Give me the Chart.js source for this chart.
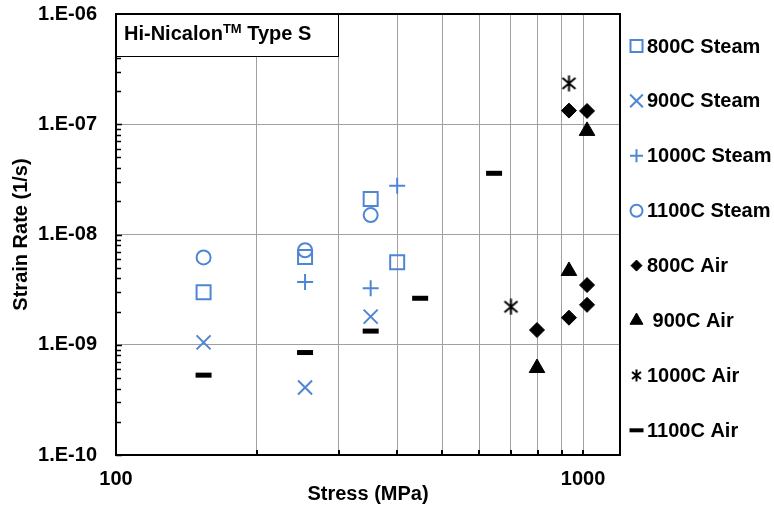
<!DOCTYPE html>
<html>
<head>
<meta charset="utf-8">
<script src="https://cdn.jsdelivr.net/npm/chart.js@4.4.0/dist/chart.umd.min.js"></script>
<style>
  body { margin: 0; background: #fff; }
</style>
</head>
<body>
<canvas id="creep-chart" width="774" height="510"></canvas>
<script>
// stress (MPa) vs. steady-state strain rate (1/s), one pair of arrays per test condition
const steam800Stress = [154, 254, 351, 400];
const steam800Rate   = [3.0e-9, 6.25e-9, 2.1e-8, 5.6e-9];

const steam900Stress = [154, 254, 351];
const steam900Rate   = [1.05e-9, 4.1e-10, 1.8e-9];

const steam1000Stress = [254, 351, 400];
const steam1000Rate   = [3.7e-9, 3.25e-9, 2.77e-8];

const steam1100Stress = [154, 254, 351];
const steam1100Rate   = [6.2e-9, 7.2e-9, 1.5e-8];

const air800Stress = [797, 933, 933, 1020, 1020, 1020];
const air800Rate   = [1.36e-9, 1.76e-9, 1.33e-7, 2.3e-9, 3.48e-9, 1.32e-7];

const air900Stress = [797, 933, 1020];
const air900Rate   = [6.15e-10, 4.67e-9, 8.7e-8];

const air1000Stress = [701, 933];
const air1000Rate   = [2.21e-9, 2.35e-7];

const air1100Stress = [154, 254, 351, 448, 645];
const air1100Rate   = [5.3e-10, 8.5e-10, 1.33e-9, 2.64e-9, 3.59e-8];

const seriesNames = ["800C Steam", "900C Steam", "1000C Steam", "1100C Steam",
                     "800C Air", " 900C Air", "1000C Air", "1100C Air"];

const xTickValues = [100, 200, 300, 400, 500, 600, 700, 800, 900, 1000];
const xTickLabels = { 100: "100", 1000: "1000" };

const blue = "#4F86D4";
const tickFont = { family: "Arial", size: 20, weight: "bold" };

function toPoints(xs, ys) {
    return xs.map((x, i) => ({ x: x, y: ys[i] }));
}

// asterisk marker (x with a vertical bar) for 1000C Air
function makeAsterisk(size, lw) {
    const c = document.createElement("canvas");
    c.width = size;
    c.height = size;
    const g = c.getContext("2d");
    g.strokeStyle = "#000";
    g.lineWidth = lw;
    const m = lw;
    g.beginPath();
    g.moveTo(m, m + 1); g.lineTo(size - m, size - m - 1);
    g.moveTo(size - m, m + 1); g.lineTo(m, size - m - 1);
    g.moveTo(size / 2, 0.5); g.lineTo(size / 2, size - 0.5);
    g.stroke();
    return c;
}
const asteriskBig = makeAsterisk(17, 2);
const asteriskSmall = makeAsterisk(13, 2);

// y ticks: every 1..9 x 10^n, labels only on decades
const yTickValues = [];
for (let e = -10; e <= -6; e++) {
    for (let m = 1; m <= 9; m++) {
        if (e === -6 && m > 1) break;
        yTickValues.push(Number(m + "e" + e));
    }
}
function isDecade(v) {
    const l = Math.log10(v);
    return Math.abs(l - Math.round(l)) < 1e-6;
}
function decadeLabel(v) {
    const e = Math.round(Math.log10(v));
    return "1.E" + (e < 0 ? "-" : "+") + String(Math.abs(e)).padStart(2, "0");
}

const datasets = [
    { label: seriesNames[0], data: toPoints(steam800Stress, steam800Rate), pointStyle: "rect", pointRadius: 9.9,
      borderColor: blue, backgroundColor: "rgba(0,0,0,0)", borderWidth: 2 },
    { label: seriesNames[1], data: toPoints(steam900Stress, steam900Rate), pointStyle: "crossRot", pointRadius: 9.9,
      borderColor: blue, backgroundColor: blue, borderWidth: 2 },
    { label: seriesNames[2], data: toPoints(steam1000Stress, steam1000Rate), pointStyle: "cross", pointRadius: 8,
      borderColor: blue, backgroundColor: blue, borderWidth: 2 },
    { label: seriesNames[3], data: toPoints(steam1100Stress, steam1100Rate), pointStyle: "circle", pointRadius: 7,
      borderColor: blue, backgroundColor: "rgba(0,0,0,0)", borderWidth: 2 },
    { label: seriesNames[4], data: toPoints(air800Stress, air800Rate), pointStyle: "rectRot", pointRadius: 7.5,
      borderColor: "#000", backgroundColor: "#000", borderWidth: 1 },
    { label: seriesNames[5], data: toPoints(air900Stress, air900Rate), pointStyle: "triangle", pointRadius: 9,
      borderColor: "#000", backgroundColor: "#000", borderWidth: 1 },
    { label: seriesNames[6], data: toPoints(air1000Stress, air1000Rate), pointStyle: asteriskBig, pointRadius: 8,
      borderColor: "#000", backgroundColor: "#000", borderWidth: 2 },
    { label: seriesNames[7], data: toPoints(air1100Stress, air1100Rate), pointStyle: "line", pointRadius: 8,
      borderColor: "#000", backgroundColor: "#000", borderWidth: 5 }
];

// smaller markers next to the legend text
const legendMarks = [
    { style: "rect", r: 8.5, w: 2 },
    { style: "crossRot", r: 9, w: 2 },
    { style: "cross", r: 6.5, w: 2 },
    { style: "circle", r: 6, w: 2 },
    { style: "rectRot", r: 5.5, w: 1 },
    { style: "triangle", r: 7.5, w: 1 },
    { style: asteriskSmall, r: 6, w: 2 },
    { style: "line", r: 7, w: 4 }
];

const framePlugin = {
    id: "frame",
    afterDatasetsDraw(chart) {
        const ctx = chart.ctx;
        const a = chart.chartArea;
        const xs = chart.scales.x, ys = chart.scales.y;
        ctx.save();
        ctx.strokeStyle = "#000";
        // inward tick marks
        ctx.lineWidth = 1.5;
        ctx.beginPath();
        yTickValues.forEach(v => {
            const py = Math.round(ys.getPixelForValue(v)) + 0.5;
            ctx.moveTo(a.left, py);
            ctx.lineTo(a.left + (isDecade(v) ? 6 : 5), py);
        });
        ctx.stroke();
        ctx.lineWidth = 2;
        ctx.beginPath();
        xTickValues.forEach(v => {
            const px = Math.round(xs.getPixelForValue(v));
            ctx.moveTo(px, a.bottom);
            ctx.lineTo(px, a.bottom - 5);
        });
        ctx.stroke();
        // box round the plot
        ctx.lineWidth = 2;
        ctx.strokeRect(a.left, a.top, a.right - a.left, a.bottom - a.top);

        // title box
        ctx.fillStyle = "#fff";
        ctx.fillRect(a.left + 1, a.top + 1, 222, 42);
        ctx.lineWidth = 1;
        ctx.strokeRect(a.left + 0.5, a.top + 0.5, 222, 42);
        ctx.fillStyle = "#000";
        ctx.textBaseline = "alphabetic";
        ctx.textAlign = "left";
        ctx.font = "bold 20px Arial";
        let tx = a.left + 8;
        const base = a.top + 26;
        ctx.fillText("Hi-Nicalon", tx, base);
        tx += ctx.measureText("Hi-Nicalon").width;
        ctx.font = "bold 13px Arial";
        ctx.fillText("TM", tx, base - 7);
        tx += ctx.measureText("TM").width;
        ctx.font = "bold 20px Arial";
        ctx.fillText(" Type S", tx, base);
        ctx.restore();
    }
};

const sideLegend = {
    id: "sideLegend",
    afterDraw(chart) {
        const ctx = chart.ctx;
        const a = chart.chartArea;
        chart.data.datasets.forEach((ds, i) => {
            const y = 46 + i * 54.9;
            const mk = legendMarks[i];
            ctx.save();
            ctx.strokeStyle = ds.borderColor;
            ctx.fillStyle = ds.backgroundColor;
            ctx.lineWidth = mk.w;
            Chart.helpers.drawPoint(ctx, { pointStyle: mk.style, radius: mk.r, rotation: 0, borderWidth: mk.w }, a.right + 16.5, y);
            ctx.restore();
            ctx.save();
            ctx.fillStyle = "#000";
            ctx.font = "bold 20px Arial";
            ctx.textBaseline = "middle";
            ctx.textAlign = "left";
            ctx.fillText(ds.label, a.right + 27, y + 1);
            ctx.restore();
        });
    }
};

const ctx = document.getElementById("creep-chart").getContext("2d");
const creepChart = new Chart(ctx, {
    type: "scatter",
    data: { datasets: datasets },
    options: {
        responsive: false,
        animation: false,
        devicePixelRatio: 1,
        layout: { padding: { left: 0, top: 14, right: 154, bottom: 0 } },
        plugins: {
            legend: { display: false },
            tooltip: { enabled: false }
        },
        scales: {
            x: {
                type: "logarithmic",
                min: 100,
                max: 1200,
                afterBuildTicks: s => { s.ticks = xTickValues.map(v => ({ value: v })); },
                afterFit: s => { s.height = 55; s.paddingLeft = 0; s.paddingRight = 0; },
                border: { color: "#000", width: 2 },
                grid: {
                    drawTicks: false,
                    lineWidth: 1,
                    color: c => (c.tick && c.tick.value === 100) ? "rgba(0,0,0,0)" : "#a0a0a0"
                },
                ticks: {
                    autoSkip: false,
                    maxRotation: 0,
                    padding: 12,
                    color: "#000",
                    font: tickFont,
                    callback: v => xTickLabels[v] || ""
                },
                title: {
                    display: true,
                    text: "Stress (MPa)",
                    color: "#000",
                    font: tickFont,
                    padding: { top: 0, bottom: 4 }
                }
            },
            y: {
                type: "logarithmic",
                min: 1e-10,
                max: 1e-6,
                afterBuildTicks: s => { s.ticks = yTickValues.map(v => ({ value: v })); },
                afterFit: s => { s.width = 116; s.paddingTop = 0; s.paddingBottom = 0; },
                border: { color: "#000", width: 2 },
                grid: {
                    drawTicks: false,
                    lineWidth: 1,
                    color: c => (c.tick && isDecade(c.tick.value)) ? "#a0a0a0" : "rgba(0,0,0,0)"
                },
                ticks: {
                    autoSkip: false,
                    padding: 19,
                    color: "#000",
                    font: tickFont,
                    callback: v => isDecade(v) ? decadeLabel(v) : ""
                },
                title: {
                    display: true,
                    text: "Strain Rate (1/s)",
                    color: "#000",
                    font: { family: "Arial", size: 20, weight: "bold" },
                    padding: { top: 9, bottom: 0 }
                }
            }
        }
    },
    plugins: [framePlugin, sideLegend]
});
</script>
</body>
</html>
